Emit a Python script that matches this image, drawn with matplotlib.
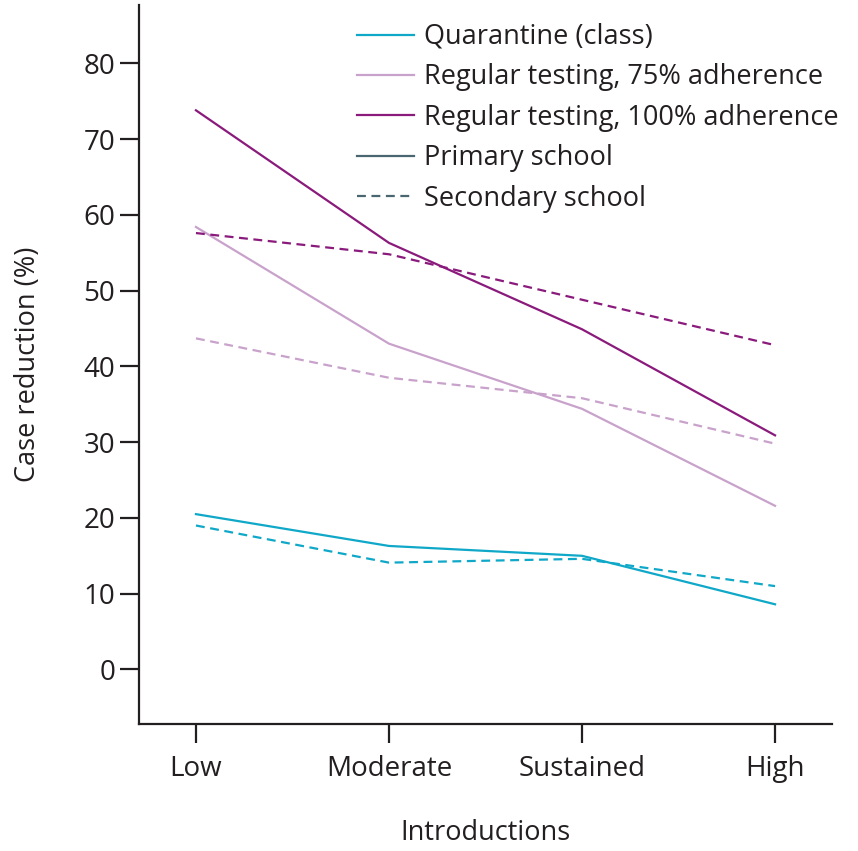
import numpy as np
import matplotlib
matplotlib.use("Agg")
import matplotlib.pyplot as plt
from matplotlib.lines import Line2D

# Introductions scenarios on the x axis
introductions = ["Low", "Moderate", "Sustained", "High"]

# Case reduction (%)
quarantine_primary = [20.5, 16.3, 15.0, 8.6]
quarantine_secondary = [19.0, 14.1, 14.6, 11.0]
testing75_primary = [58.4, 43.0, 34.4, 21.6]
testing75_secondary = [43.7, 38.5, 35.8, 29.8]
testing100_primary = [73.8, 56.3, 44.9, 30.9]
testing100_secondary = [57.6, 54.8, 48.8, 42.8]

CYAN = "#10a8c8"
MAUVE = "#c9a2cc"
PURPLE = "#8a1a7c"
SLATE = "#4a6670"
INK = "#231f20"

plt.rcParams["font.family"] = ["Open Sans", "DejaVu Sans"]

fig = plt.figure(figsize=(8.58, 8.51), dpi=100)
ax = fig.add_axes([139 / 858, 1 - 724 / 851, (832 - 139) / 858, (724 - 5) / 851])

x = np.arange(len(introductions))
lw = 1.6
dash = (0, (4, 2.5))
ax.plot(x, quarantine_primary, color=CYAN, lw=lw)
ax.plot(x, quarantine_secondary, color=CYAN, lw=lw, ls=dash)
ax.plot(x, testing75_primary, color=MAUVE, lw=lw)
ax.plot(x, testing75_secondary, color=MAUVE, lw=lw, ls=dash)
ax.plot(x, testing100_primary, color=PURPLE, lw=lw)
ax.plot(x, testing100_secondary, color=PURPLE, lw=lw, ls=dash)

ax.set_xlim(-0.295, 3.295)
ax.set_ylim(-7.2, 87.7)
ax.set_xticks(x)
ax.set_xticklabels(introductions)
ax.set_yticks(np.arange(0, 81, 10))

for side in ["top", "right"]:
    ax.spines[side].set_visible(False)
for side in ["left", "bottom"]:
    ax.spines[side].set_linewidth(1.6)
    ax.spines[side].set_color(INK)

ax.tick_params(axis="both", length=14, width=1.6, color=INK, labelcolor=INK,
               labelsize=20)
ax.tick_params(axis="y", pad=3)
ax.tick_params(axis="x", pad=8)

ax.set_ylabel("Case reduction (%)", fontsize=19.5, color=INK, labelpad=30)
ax.set_xlabel("Introductions", fontsize=19.5, color=INK, labelpad=26)

handles = [
    Line2D([], [], color=CYAN, lw=lw),
    Line2D([], [], color=MAUVE, lw=lw),
    Line2D([], [], color=PURPLE, lw=lw),
    Line2D([], [], color=SLATE, lw=lw),
    Line2D([], [], color=SLATE, lw=lw, ls=dash),
]
labels = [
    "Quarantine (class)",
    "Regular testing, 75% adherence",
    "Regular testing, 100% adherence",
    "Primary school",
    "Secondary school",
]
leg = fig.legend(handles, labels, loc="upper left",
                 bbox_to_anchor=(357 / 858, 1 - 23 / 851), frameon=False,
                 fontsize=19.5, handlelength=2.1, handletextpad=0.38,
                 labelspacing=0.46, borderaxespad=0, borderpad=0)
for t in leg.get_texts():
    t.set_color(INK)

fig.savefig("out.png", dpi=100)
